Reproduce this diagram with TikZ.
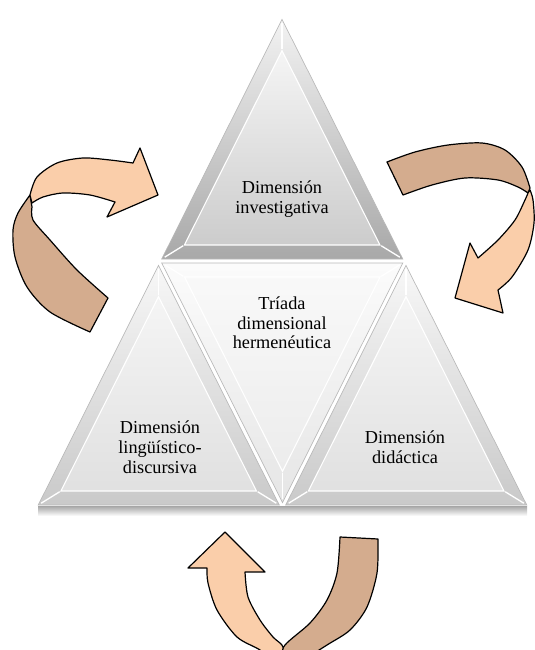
\documentclass[tikz,border=0pt]{standalone}
\usepackage{fontspec}
\setmainfont{Liberation Serif}
\usetikzlibrary{calc}
\definecolor{flechaclara}{RGB}{250,206,170}
\definecolor{flechaoscura}{RGB}{212,172,142}
% triangulo biselado: vertices, incentro, sombreado exterior, sombreado interior
\newcommand{\bisel}[6]{%
  \path[#5, draw=gray!55, line width=0.5pt] ($(#4)!0.974!(#1)$) -- ($(#4)!0.974!(#2)$) -- ($(#4)!0.974!(#3)$) -- cycle;
  \path[#6] ($(#4)!0.79!(#1)$) -- ($(#4)!0.79!(#2)$) -- ($(#4)!0.79!(#3)$) -- cycle;
  \draw[white, line width=0.8pt] ($(#4)!0.79!(#1)$) -- ($(#4)!0.79!(#2)$) -- ($(#4)!0.79!(#3)$) -- cycle;
  \foreach \v in {#1,#2,#3}
    \draw[white, line width=1pt] ($(#4)!0.95!(\v)$) -- ($(#4)!0.80!(\v)$);
}
\begin{document}
\begin{tikzpicture}[x=0.75pt, y=-0.75pt,
    frente/.style={fill=flechaclara, draw=black, line width=0.9pt, line join=round},
    dorso/.style={fill=flechaoscura, draw=black, line width=0.9pt, line join=round},
    rotulo/.style={align=center, text=black, font=\fontsize{13.7}{14.8}\selectfont}]
  \useasboundingbox (0,0) rectangle (535,650);

  % vertices del triangulo grande y puntos medios
  \coordinate (A) at (282,15);
  \coordinate (B) at (35,507);
  \coordinate (C) at (530,507);
  \coordinate (L) at (158.5,261);
  \coordinate (R) at (406,261);
  \coordinate (M) at (282.5,507);
  % incentros
  \coordinate (iT) at (282,184.7);
  \coordinate (iL) at (158.5,430.7);
  \coordinate (iR) at (406,430.7);
  \coordinate (iC) at (282.5,337.3);

  % sombra de la base
  \fill[top color=gray!70, bottom color=white] (38,506) rectangle (527,516);

  \bisel{A}{L}{R}{iT}{top color=gray!10, bottom color=gray!68}{top color=gray!8, bottom color=gray!40}
  \bisel{L}{B}{M}{iL}{top color=gray!6, bottom color=gray!42}{top color=gray!8, bottom color=gray!24}
  \bisel{R}{M}{C}{iR}{top color=gray!6, bottom color=gray!42}{top color=gray!8, bottom color=gray!24}
  \bisel{L}{R}{M}{iC}{top color=gray!3, bottom color=gray!20}{top color=gray!5, bottom color=gray!15}

  \node[rotulo] (invest) at (282,199) {Dimensión\\investigativa};
  \node[rotulo] (triada) at (282,323) {Tríada\\dimensional\\hermenéutica};
  \node[rotulo] (lingu) at (160,447) {Dimensión\\lingüístico-\\discursiva};
  \node[rotulo] (didac) at (405,447) {Dimensión\\didáctica};

  % flecha izquierda
  \draw[dorso] plot[smooth] coordinates {(90,332) (50,312) (27,287) (15,257) (13,230) (18,213) (30,195)}
    -- plot[smooth] coordinates {(32,207) (33,220) (50,240) (77,270) (108,298)} -- cycle;
  \draw[frente] plot[smooth] coordinates {(30,195) (37,177) (57,163) (83,158) (110,160) (133,163)}
    -- (140,148) -- (158,195) -- (107,217) -- (115,202)
    -- plot[smooth] coordinates {(115,202) (90,195) (63,193) (43,197) (32,203)} -- cycle;

  % flecha derecha
  \draw[dorso] plot[smooth] coordinates {(387,162) (415,152) (448,145) (482,143) (505,150) (522,167) (530,188)}
    -- plot[smooth] coordinates {(528,193) (518,187) (498,180) (465,178) (432,185) (403,195)} -- cycle;
  \draw[frente] plot[smooth] coordinates {(530,190) (533,200) (534,223) (528,250) (512,277) (498,290)}
    -- (503,313) -- (455,298) -- (470,243) -- (478,258)
    -- plot[smooth] coordinates {(478,258) (498,240) (515,220) (525,200) (528,193)} -- cycle;

  % flecha inferior
  \begin{scope}
    \clip (0,0) rectangle (535,650);
    \draw[dorso] plot[smooth] coordinates {(340,537) (337,573) (327,600) (310,623) (285,645) (278,662)}
      -- plot[smooth] coordinates {(300,662) (327,645) (350,630) (367,607) (377,573) (378,539)} -- cycle;
    \draw[frente] plot[smooth] coordinates {(272,662) (260,650) (237,637) (217,610) (208,583) (207,568)}
      -- (188,568) -- (225,532) -- (265,572) -- (245,572)
      -- plot[smooth] coordinates {(245,572) (248,597) (260,620) (273,637) (283,647) (278,662)} -- cycle;
  \end{scope}
\end{tikzpicture}
\end{document}
